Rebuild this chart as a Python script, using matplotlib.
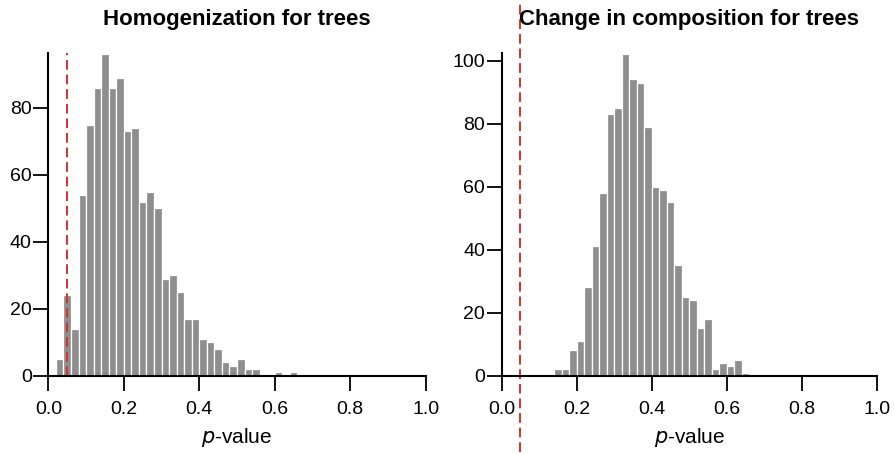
import matplotlib

matplotlib.use("Agg")
import matplotlib.pyplot as plt
import numpy as np

plt.rcParams["font.family"] = ["Liberation Sans", "DejaVu Sans"]

# histogram bins of width 0.02, left edges starting at 0.02 (homogenization) / 0.14 (composition)
bin_width = 0.02
homog_start = 0.02
homog_counts = [5, 24, 14, 54, 75, 86, 96, 86, 89, 73, 74, 52, 55, 50, 29, 30,
                25, 17, 17, 11, 10, 8, 4, 3, 5, 2, 2, 0, 0, 1, 0, 1]
comp_start = 0.14
comp_counts = [2, 2, 8, 11, 28, 41, 58, 83, 85, 102, 94, 93, 79, 60, 59, 55,
               35, 25, 24, 15, 18, 2, 4, 3, 5, 1]
alpha_level = 0.05

panels = [
    ("Homogenization for trees", homog_start, homog_counts, 96.5, [0, 20, 40, 60, 80]),
    ("Change in composition for trees", comp_start, comp_counts, 102.5, [0, 20, 40, 60, 80, 100]),
]
x_ticks = [0.0, 0.2, 0.4, 0.6, 0.8, 1.0]

fig = plt.figure(figsize=(8.95, 4.54), dpi=100)
ax_left = fig.add_axes([0.054, 0.1725, 0.4217, 0.7115])
ax_right = fig.add_axes([0.5606, 0.1725, 0.419, 0.7115])

for ax, (title, start, counts, ytop, yticks) in zip([ax_left, ax_right], panels):
    edges = start + bin_width * np.arange(len(counts))
    ax.bar(edges, counts, width=bin_width, align="edge", color="#8e8e8e",
           edgecolor="white", linewidth=0.9, zorder=2)
    ax.set_xlim(0, 1.0)
    ax.set_ylim(0, ytop)
    ax.set_xticks(x_ticks)
    ax.set_xticklabels([f"{t:.1f}" for t in x_ticks])
    ax.set_yticks(yticks)
    for side in ("top", "right"):
        ax.spines[side].set_visible(False)
    for side in ("left", "bottom"):
        ax.spines[side].set_linewidth(1.5)
        ax.spines[side].set_zorder(4)
    ax.tick_params(axis="both", length=11, width=1.3, labelsize=14, direction="out")
    ax.tick_params(axis="x", pad=7)
    ax.tick_params(axis="y", pad=1)
    ax.set_xlabel("$\\it{p}$-value", fontsize=15, labelpad=6)
    ax.set_title(title, fontsize=16, fontweight="bold", pad=20)

ax_left.axvline(alpha_level, color="#d9302c", linestyle=(0, (5, 2.5)), linewidth=1.4, zorder=3)
ax_right.axvline(alpha_level, ymin=-0.235, ymax=1.15, color="#d9302c",
                 linestyle=(0, (5, 2.5)), linewidth=1.4, zorder=3, clip_on=False)

fig.savefig("out.png", dpi=100)
plt.close(fig)
